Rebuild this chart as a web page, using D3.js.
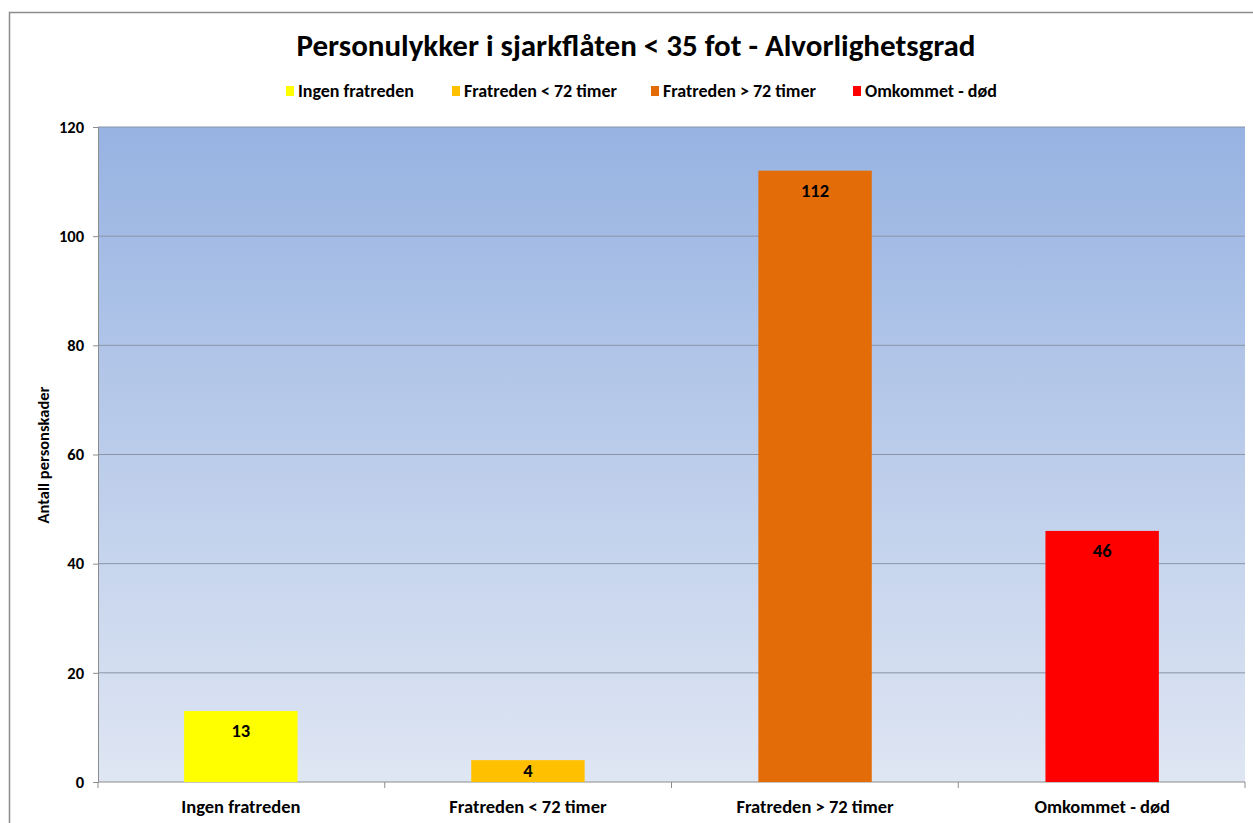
<!DOCTYPE html>
<html>
<head>
<meta charset="utf-8">
<script src="https://cdn.jsdelivr.net/npm/d3@7"></script>
<style>
  body { margin: 0; background: #fff; }
  svg text { font-family: Carlito, Lato, "Open Sans", sans-serif; font-weight: bold; fill: #000; }
</style>
</head>
<body>
<svg id="chart" width="1253" height="823"></svg>
<script>
// chart data
var categories = ["Ingen fratreden", "Fratreden < 72 timer", "Fratreden > 72 timer", "Omkommet - død"];
var values = [13, 4, 112, 46];
var colors = ["#FFFF00", "#FFC000", "#E36C09", "#FF0000"];
var yTicks = [0, 20, 40, 60, 80, 100, 120];
var title = "Personulykker i sjarkflåten < 35 fot - Alvorlighetsgrad";
var yTitle = "Antall personskader";

(function(){
  var svg = d3.select("#chart");
  var margin = { left: 98, right: 8, top: 127, bottom: 41 };
  var W = 1253, H = 823;
  var plotW = W - margin.left - margin.right;
  var plotH = H - margin.top - margin.bottom;

  // outer frame
  svg.append("rect")
    .attr("x", 9.5).attr("y", 12.5)
    .attr("width", W + 10).attr("height", H + 10)
    .attr("fill", "#fff").attr("stroke", "#8c8c8c").attr("stroke-width", 1.5);

  var defs = svg.append("defs");
  var grad = defs.append("linearGradient").attr("id", "bg")
    .attr("x1", 0).attr("y1", 0).attr("x2", 0).attr("y2", 1);
  grad.append("stop").attr("offset", "0%").attr("stop-color", "#97B3E2");
  grad.append("stop").attr("offset", "100%").attr("stop-color", "#DFE6F3");

  var g = svg.append("g").attr("transform", "translate(" + margin.left + "," + margin.top + ")");

  var x = d3.scaleBand().domain(categories).range([0, plotW]).paddingInner(0.605).paddingOuter(0.3);
  var y = d3.scaleLinear().domain([0, 120]).range([plotH, 0]);

  g.append("rect").attr("width", plotW).attr("height", plotH).attr("fill", "url(#bg)");

  // gridlines
  g.selectAll(".grid").data(yTicks.slice(1)).enter().append("line")
    .attr("x1", 0).attr("x2", plotW)
    .attr("y1", function(d){ return y(d); }).attr("y2", function(d){ return y(d); })
    .attr("stroke", "#8a94a6").attr("stroke-width", 1);

  // y axis
  var yAxis = g.append("g").call(d3.axisLeft(y).tickValues(yTicks).tickSize(5).tickPadding(9));
  yAxis.select(".domain").attr("stroke", "#8c8c8c");
  yAxis.selectAll(".tick line").attr("stroke", "#8c8c8c");
  yAxis.selectAll("text").attr("font-size", 16.5).attr("fill", "#000")
    .style("font-family", "Carlito, Lato, sans-serif").style("font-weight", "bold");

  // x axis with ticks at category boundaries
  var xb = d3.scaleLinear().domain([0, categories.length]).range([0, plotW]);
  var xAxisG = g.append("g").attr("transform", "translate(0," + plotH + ")");
  xAxisG.append("line").attr("x1", 0).attr("x2", plotW).attr("stroke", "#8c8c8c");
  xAxisG.selectAll(".bt").data(d3.range(categories.length + 1)).enter().append("line")
    .attr("x1", function(d){ return xb(d); }).attr("x2", function(d){ return xb(d); })
    .attr("y1", 0).attr("y2", 6).attr("stroke", "#8c8c8c");
  xAxisG.selectAll(".xl").data(categories).enter().append("text")
    .attr("x", function(d){ return x(d) + x.bandwidth() / 2; })
    .attr("y", 31).attr("text-anchor", "middle").attr("font-size", 18.5)
    .text(function(d){ return d; });

  // bars
  g.selectAll(".bar").data(values).enter().append("rect")
    .attr("x", function(d, i){ return x(categories[i]); })
    .attr("y", function(d){ return y(d); })
    .attr("width", x.bandwidth())
    .attr("height", function(d){ return plotH - y(d); })
    .attr("fill", function(d, i){ return colors[i]; });

  // value labels
  g.selectAll(".val").data(values).enter().append("text")
    .attr("x", function(d, i){ return x(categories[i]) + x.bandwidth() / 2; })
    .attr("y", function(d){ return Math.min(y(d) + 26, plotH - 5); })
    .attr("text-anchor", "middle").attr("font-size", 18.5)
    .text(function(d){ return d; });

  // title
  svg.append("text").attr("x", 636).attr("y", 56).attr("text-anchor", "middle")
    .attr("font-size", 31).text(title);

  // legend
  var legX = [286, 452, 651, 853];
  var leg = svg.selectAll(".leg").data(categories).enter().append("g")
    .attr("transform", function(d, i){ return "translate(" + legX[i] + ",86)"; });
  leg.append("rect").attr("width", 8).attr("height", 10)
    .attr("fill", function(d, i){ return colors[i]; });
  leg.append("text").attr("x", 12).attr("y", 11).attr("font-size", 18)
    .text(function(d){ return d; });

  // y title
  svg.append("text").attr("transform", "translate(49,455) rotate(-90)")
    .attr("text-anchor", "middle").attr("font-size", 16.5).text(yTitle);
}());
</script>
</body>
</html>
